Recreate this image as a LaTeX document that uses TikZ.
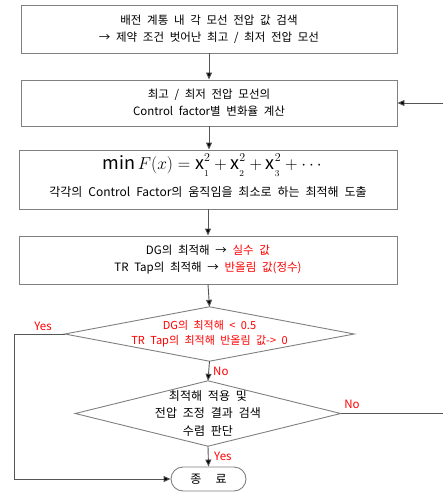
\documentclass[tikz,border=0pt]{standalone}
\usepackage{fontspec}
\setmainfont[WordSpace=2.2]{Noto Sans CJK KR}
\usetikzlibrary{arrows.meta}
\definecolor{boxgray}{HTML}{808080}
\definecolor{linegray}{HTML}{555555}
\definecolor{redtxt}{HTML}{FF0000}
\newcommand{\xsqr}[1]{\mathrm{x}^{\raisebox{2pt}{$\scriptstyle 2$}}_{\raisebox{-3pt}{$\scriptscriptstyle #1$}}}
\tikzset{
  x=1pt, y=-1pt,
  procbox/.style={draw=boxgray, line width=0.9pt, minimum width=376pt, inner sep=0pt, align=center,
     font=\fontsize{11.5}{17}\selectfont},
  textbox/.style={inner sep=0pt, align=center},
  conn/.style={draw=linegray, line width=0.9pt},
  arr/.style={conn, -{Triangle[length=7pt,width=6pt,fill=black]}},
  lbl/.style={text=redtxt, font=\fontsize{11.5}{13}\selectfont, inner sep=0pt},
}
\begin{document}
\begin{tikzpicture}
\useasboundingbox (0,0) rectangle (443,492);
\fill[white] (0,0) rectangle (443,492);
% boxes
\node[procbox, minimum height=48pt] (b1) at (209,29)
  {배전 계통 내 각 모선 전압 값 검색\\→ 제약 조건 벗어난 최고 / 최저 전압 모선};
\node[procbox, minimum height=46pt] (b2) at (209,103)
  {최고 / 최저 전압 모선의\\Control factor별 변화율 계산};
\node[procbox, minimum width=378pt, minimum height=59pt] (b3) at (208,179.5) {};
\node[textbox] (f3) at (212,165) {\fontsize{18}{18}\selectfont $\min F(x)=\xsqr{1}+\xsqr{2}+\xsqr{3}+\cdots$};
\node[textbox, font=\fontsize{12}{13}\selectfont] (t3) at (208,192) {각각의 Control Factor의 움직임을 최소로 하는 최적해 도출};
\node[procbox, minimum width=378pt, minimum height=48pt] (b4) at (208,260)
  {DG의 최적해 → \textcolor{redtxt}{실수 값}\\TR Tap의 최적해 → \textcolor{redtxt}{반올림 값(정수)}};
% decision 1
\node[minimum width=289pt, minimum height=54pt, inner sep=0pt, align=center,
      text=redtxt, font=\fontsize{11}{15}\selectfont] (d1) at (209.5,334)
  {DG의 최적해 < 0.5\\TR Tap의 최적해 반올림 값-> 0};
\draw[draw=boxgray, line width=0.9pt] (d1.west) -- (d1.north) -- (d1.east) -- (d1.south) -- cycle;
% decision 2
\node[minimum width=265pt, minimum height=65pt, inner sep=0pt, align=center,
      font=\fontsize{12}{17.5}\selectfont] (d2) at (208,413.5)
  {최적해 적용 및\\전압 조정 결과 검색\\수렴 판단};
\draw[draw=boxgray, line width=0.9pt] (d2.west) -- (d2.north) -- (d2.east) -- (d2.south) -- cycle;
% end
\node[draw=boxgray, line width=0.9pt, rounded corners=12pt, minimum width=75pt, minimum height=24pt,
      inner sep=0pt, font=\fontsize{12}{13}\selectfont] (e) at (208.5,479) {종\hspace{1.2em}료};
% connectors
\draw[arr] (b1.south) -- (b2.north);
\draw[arr] (b2.south) -- (b3.north -| b2.south);
\draw[arr] (b3.south) -- (b4.north);
\draw[arr] (b4.south) -- (d1.north);
\draw[arr] (d1.south) -- (d2.north);
\draw[arr] (d2.south) -- (e.north);
\coordinate (fb) at (443,103);
\draw[arr] (fb) -- (b2.east);
\coordinate (yc) at (14,334);
\draw[arr] (d1.west) -- (yc) |- (e.west);
\coordinate (nc) at (443,413.5);
\draw[conn] (d2.east) -- (nc);
% labels
\node[lbl] (ly1) at (43,326) {Yes};
\node[lbl, anchor=west] (ln1) at (213,371) {No};
\node[lbl] (ln2) at (352,404) {No};
\node[lbl, anchor=west] (ly2) at (214,456) {Yes};
\end{tikzpicture}
\end{document}
